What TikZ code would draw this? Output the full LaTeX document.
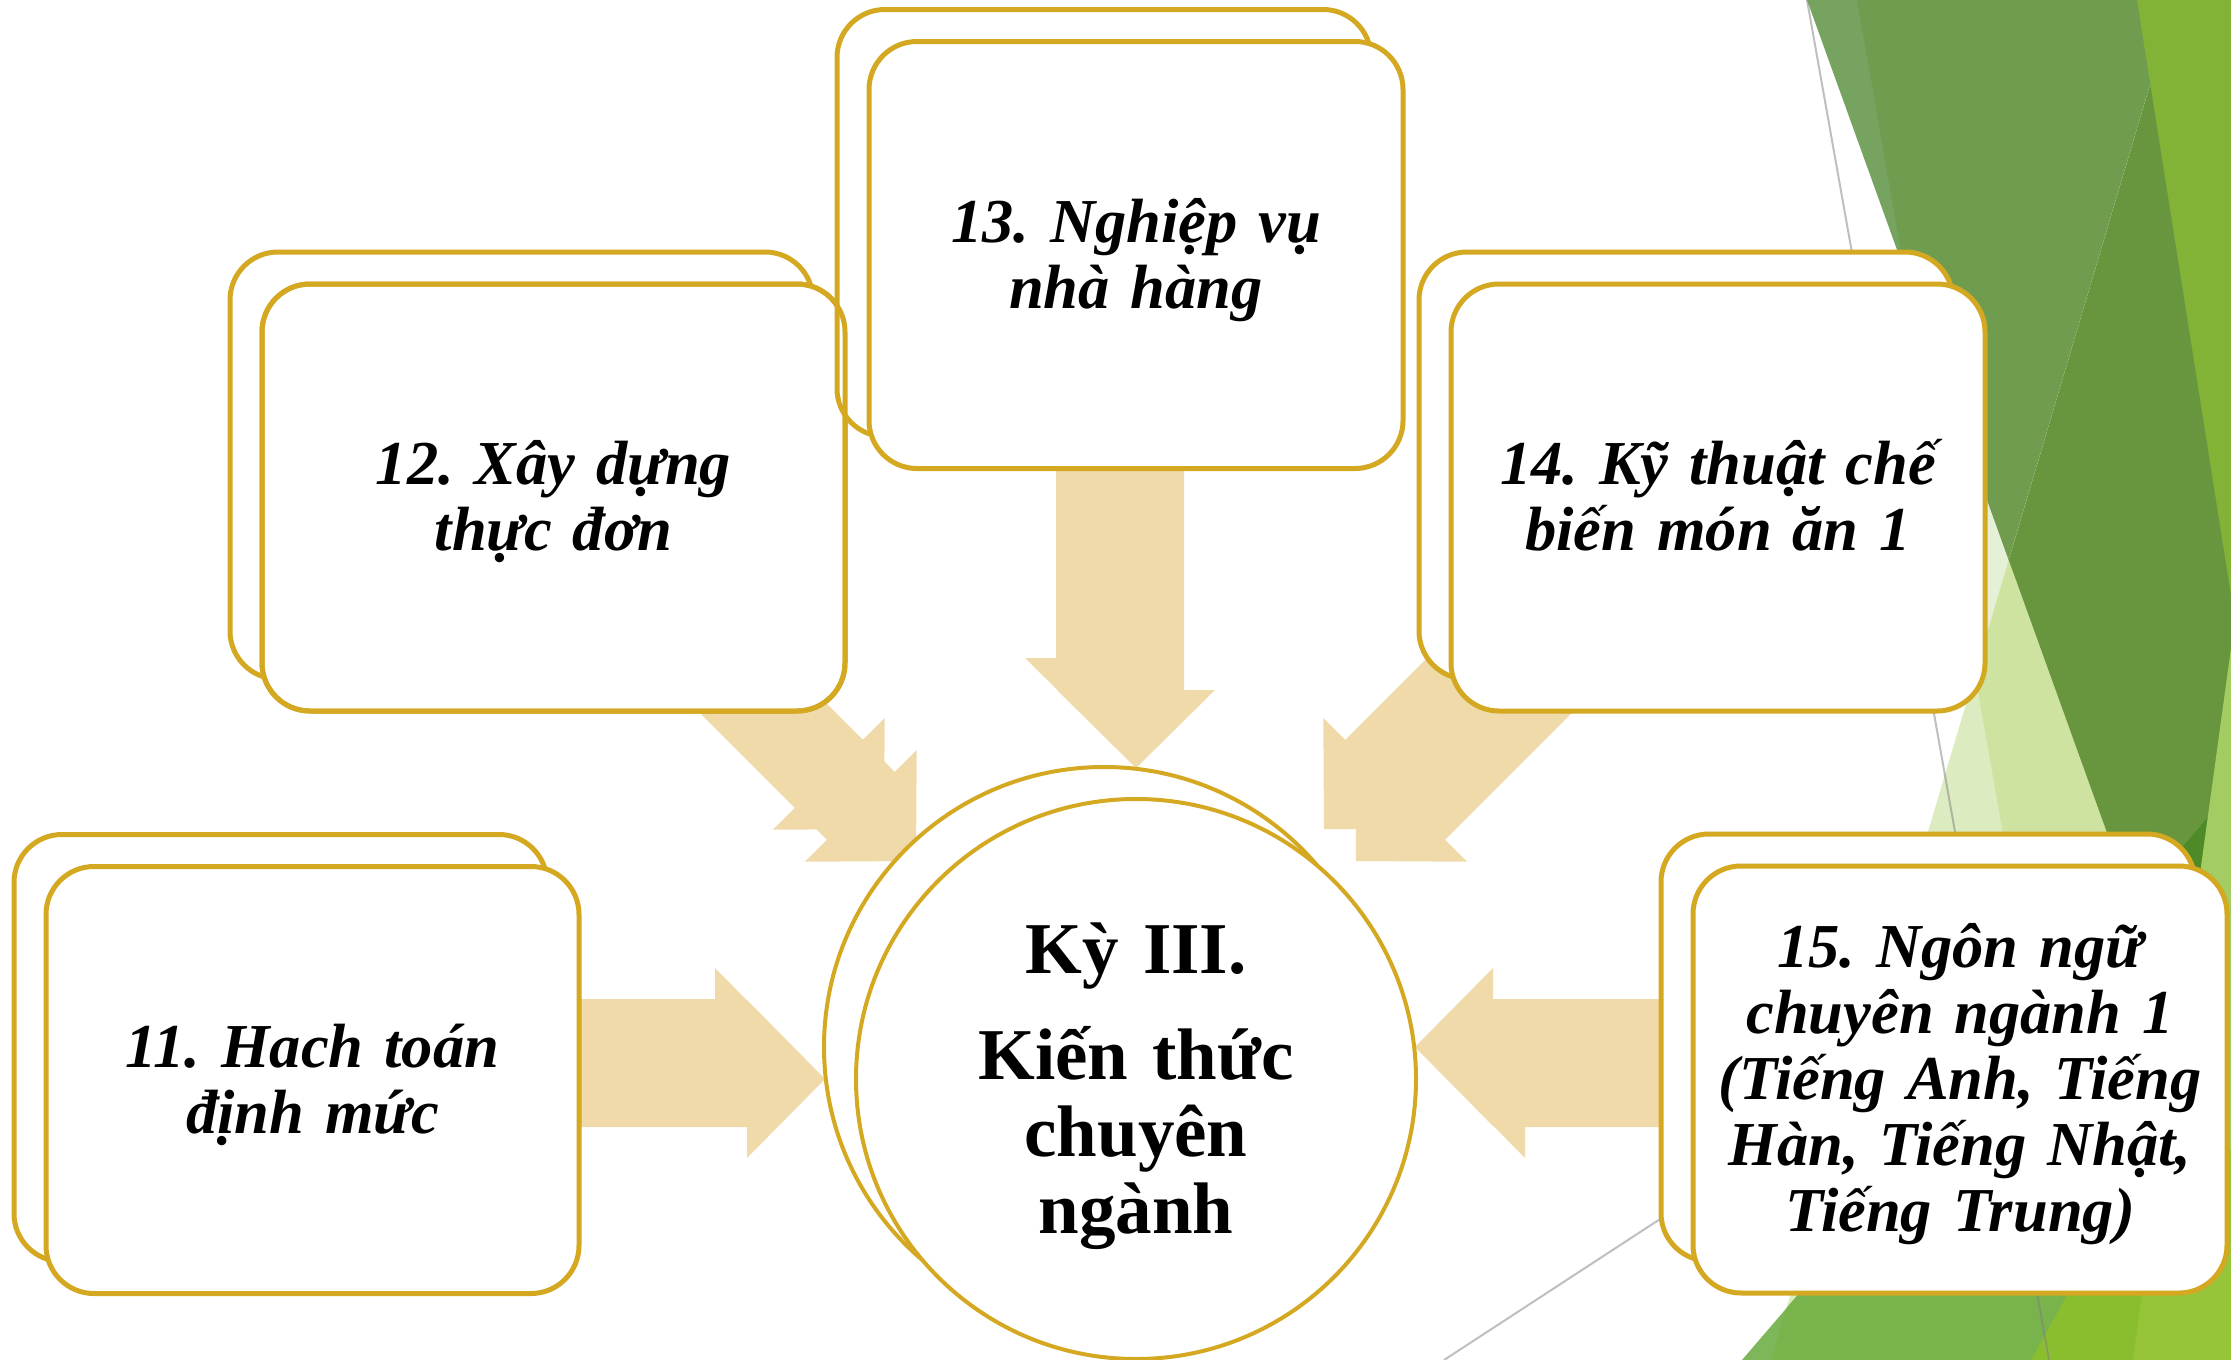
\documentclass[tikz,border=0pt]{standalone}
\usepackage{fontspec}
\setmainfont{Liberation Serif}
\frenchspacing
\definecolor{gold}{RGB}{212,168,32}
\definecolor{arrowtan}{RGB}{240,218,170}
\definecolor{gSliver}{RGB}{118,164,96}
\definecolor{gMid}{RGB}{111,156,79}
\definecolor{gDark}{RGB}{104,150,63}
\definecolor{gBright}{RGB}{130,178,54}
\definecolor{gPale}{RGB}{221,235,192}
\definecolor{gPaler}{RGB}{230,240,214}
\definecolor{gLight}{RGB}{207,227,160}
\definecolor{gDeep}{RGB}{78,138,40}
\definecolor{gLimeTop}{RGB}{163,204,98}
\definecolor{gLimeBot}{RGB}{151,197,58}
\definecolor{gBand}{RGB}{126,183,90}
\definecolor{gBottom}{RGB}{120,179,75}
\definecolor{gBottomR}{RGB}{139,190,47}
\definecolor{lineGray}{RGB}{128,128,128}
\newcommand\boxfont{\fontsize{62.5}{66}\selectfont\bfseries\itshape\frenchspacing}
\newcommand\hubfont{\fontsize{73}{77}\selectfont\bfseries\frenchspacing}
\newcommand\fatarrow[5]{%
  \pgfmathsetmacro\faX{#1}\pgfmathsetmacro\faY{#2}%
  \pgfmathsetmacro\faU{#3}\pgfmathsetmacro\faV{#4}%
  \pgfmathsetmacro\faL{#5}%
  \fill[arrowtan] ({\faX-\faL*(\faU)+48*(\faV)},{\faY-\faL*(\faV)-48*(\faU)})
   -- ({\faX-78*(\faU)+48*(\faV)},{\faY-78*(\faV)-48*(\faU)})
   -- ({\faX-78*(\faU)+79*(\faV)},{\faY-78*(\faV)-79*(\faU)})
   -- (\faX,\faY)
   -- ({\faX-78*(\faU)-79*(\faV)},{\faY-78*(\faV)+79*(\faU)})
   -- ({\faX-78*(\faU)-48*(\faV)},{\faY-78*(\faV)+48*(\faU)})
   -- ({\faX-\faL*(\faU)-48*(\faV)},{\faY-\faL*(\faV)+48*(\faU)}) -- cycle;}
\begin{document}
\begin{tikzpicture}[x=1pt,y=-1pt,
  backbox/.style={draw=gold,line width=5pt,fill=white,rounded corners=48pt,minimum width=#1,minimum height=427pt,inner sep=0pt,outer sep=0pt},
  backbox/.default=534pt,
  frontbox/.style={backbox=#1},
  frontbox/.default=534pt,
  boxtext/.style={font=\boxfont,text width=540pt,align=center,anchor=base,inner sep=0pt},
  ring/.style={circle,draw=gold,line width=4pt,fill=white,minimum size=560pt,inner sep=0pt},
  hubtext/.style={font=\hubfont,text width=500pt,align=center,anchor=base,inner sep=0pt},
  deco/.style={line width=2pt,draw=lineGray,draw opacity=0.5}
]
\useasboundingbox (0,0) rectangle (2231,1360);
\clip (0,0) rectangle (2231,1360);
\fill[white] (0,0) rectangle (2231,1360);
% ---- green facets ----
\def\SB{(1857,0) -- (2400,0) -- (2400,1360) -- (2095,1360) -- cycle}
\def\GA{(1807,0) -- (2400,0) -- (2400,1360) -- (2297,1360) -- cycle}
\def\TA{(2150,85) -- (1771,1360) -- (2400,1360) -- (2400,85) -- cycle}
\def\GC{(2400,593) -- (1742,1360) -- (2400,1360) -- cycle}
\fill[gPaler] \SB;
\fill[gSliver] \GA;
\begin{scope}\clip \SB; \fill[gMid] \GA;\end{scope}
\fill[gPale] \TA;
\begin{scope}\clip \SB; \fill[gLight] \TA;\end{scope}
\begin{scope}\clip \GA; \fill[gDark] \TA;\end{scope}
\fill[gBright] (2137,0) -- (2400,0) -- (2400,1665) -- cycle;
\fill[gBand] \GC;
\begin{scope}\clip \TA; \fill[gBottom] \GC;\end{scope}
\begin{scope}\clip \GA; \fill[gDeep] \GC;\end{scope}
\fill[gBottomR] (2120,1200) -- (2020,1380) -- (2400,1380) -- (2400,1200) -- cycle;
\fill[gLimeTop] (2235,619) -- (2162,1150) -- (2400,1150) -- (2400,619) -- cycle;
\fill[gLimeBot] (2162,1150) -- (2133,1360) -- (2400,1360) -- (2400,1150) -- cycle;
\draw[deco] (1807,0) -- (2049,1360);
\draw[deco] (1444,1360) -- (1700,1193);
% ---- block arrows (each doubled) ----
\fatarrow{1104}{736}{0}{1}{368}
\fatarrow{1136}{768}{0}{1}{368}
\fatarrow{884}{829}{0.70711}{0.70711}{305}
\fatarrow{916}{861}{0.70711}{0.70711}{305}
\fatarrow{1324}{829}{-0.70711}{0.70711}{305}
\fatarrow{1356}{861}{-0.70711}{0.70711}{305}
\fatarrow{793}{1047}{1}{0}{285}
\fatarrow{825}{1079}{1}{0}{285}
\fatarrow{1415}{1047}{-1}{0}{285}
\fatarrow{1447}{1079}{-1}{0}{285}
% ---- boxes ----
\node[backbox=533pt] (b11back) at (280.5,1048) {};
\node[frontbox=533pt] (b11) at (312.5,1080) {};
\node[boxtext] (t11) at ([yshift=13pt]b11.center) {11. Hach toán\\định mức};
\node[backbox=583pt] (b12back) at (521.5,465.5) {};
\node[frontbox=583pt] (b12) at (553.5,497.5) {};
\node[boxtext] (t12) at ([yshift=13pt]b12.center) {12. Xây dựng\\thực đơn};
\node[backbox] (b13back) at (1104,223) {};
\node[frontbox] (b13) at (1136,255) {};
\node[boxtext] (t13) at ([yshift=13pt]b13.center) {13. Nghiệp vụ\\nhà hàng};
\draw[draw=gold,line width=5pt,rounded corners=48pt] (b12.south west) rectangle (b12.north east);
\node[backbox] (b14back) at (1686,465.5) {};
\node[frontbox] (b14) at (1718,497.5) {};
\node[boxtext] (t14) at ([yshift=13pt]b14.center) {14. Kỹ thuật chế\\biến món ăn 1};
\node[backbox] (b15back) at (1928,1047.5) {};
\node[frontbox] (b15) at (1960,1079.5) {};
\node[boxtext] (t15) at ([yshift=112pt]b15.center) {15. Ngôn ngữ\\chuyên ngành 1\\(Tiếng Anh, Tiếng\\Hàn, Tiếng Nhật,\\Tiếng Trung)};
% ---- hub ----
\node[ring] (hubback) at (1104,1047) {};
\node[ring] (hub) at (1136,1079) {};
\node[hubtext] (hubt) at (1136,973) {Kỳ III.\\[29pt]Kiến thức\\chuyên\\ngành};
\end{tikzpicture}
\end{document}
